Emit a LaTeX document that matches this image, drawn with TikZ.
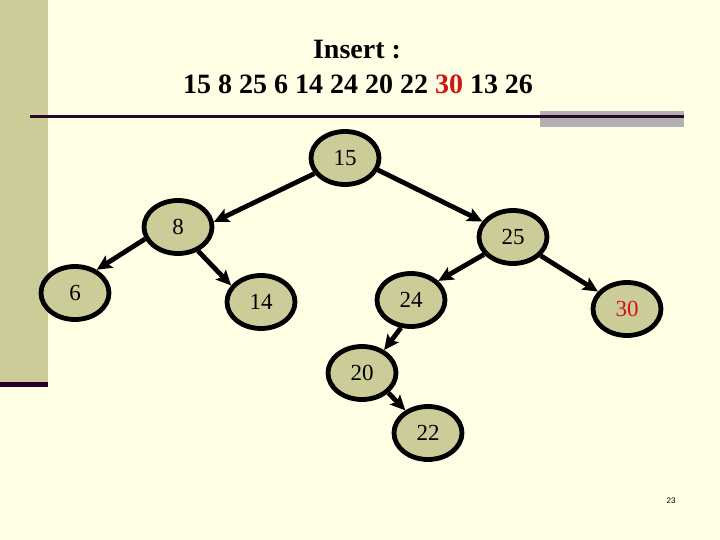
\documentclass[tikz,border=0pt]{standalone}
\usepackage{fontspec}
\setmainfont{Liberation Serif}
\newfontfamily\pgnumfont{Liberation Sans}
\usetikzlibrary{shapes.geometric,arrows.meta}
\definecolor{slidebg}{RGB}{255,255,229}
\definecolor{khaki}{RGB}{204,204,153}
\definecolor{ruledark}{RGB}{40,8,40}
\definecolor{barpurple}{RGB}{40,0,40}
\definecolor{graybar}{RGB}{178,176,176}
\definecolor{hotred}{RGB}{210,20,20}
\begin{document}
\begin{tikzpicture}[x=1pt,y=-1pt,
  bnode/.style={ellipse,draw,line width=4.8pt,fill=khaki,minimum width=68pt,minimum height=53pt,inner sep=0pt,font=\fontsize{23}{25}\selectfont},
  edge/.style={line width=4.8pt,-{Stealth[length=15pt,width=14pt,inset=3pt]}},
  every node/.style={font=\fontsize{28}{32}\selectfont\bfseries}]
\useasboundingbox (0,0) rectangle (720,540);
\fill[slidebg] (0,0) rectangle (720,540);
\fill[khaki] (0,0) rectangle (48,382);
\fill[barpurple] (0,382) rectangle (48,387);
\fill[graybar] (540,111) rectangle (684,127);
\draw[ruledark,line width=3.5pt] (30,116.7) -- (684,116.7);
\node (title) at (357,50) {Insert :};
\node (keys) at (358,84) {15 8 25 6 14 24 20 22 \textcolor{hotred}{30} 13 26};
\foreach \n/\x/\y/\c in {15/345/158/black,8/178/227/black,25/513/237/black,6/75/293/black,14/261/302/black,24/411/300/black,30/627/309/hotred,20/362/373/black,22/428/433/black}
{\node[bnode,text=\c] (n\n) at (\x,\y) {\n};}
\foreach \a/\b/\s/\e in {15/8/207/8,15/25/340/153,8/6/200/47,8/14/310/151,25/24/211/35,25/30/326/149,24/20/250/46,20/22/323/135}
{\draw[edge] (n\a.\s) -- (n\b.\e);}
\node[font=\pgnumfont\fontsize{8}{9}\selectfont] (pgnum) at (671,501) {23};
\end{tikzpicture}
\end{document}
